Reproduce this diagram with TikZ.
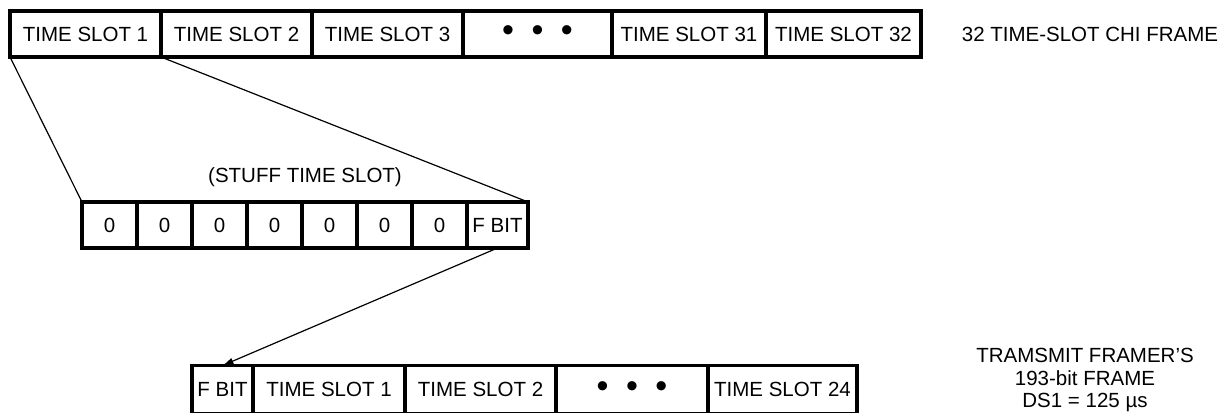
\documentclass[tikz,border=0pt]{standalone}
\usepackage{fontspec}
\setmainfont{Liberation Sans}
\usetikzlibrary{positioning,calc,arrows.meta}

\begin{document}
\begin{tikzpicture}[x=1pt,y=-1pt,
    cell/.style={draw, line width=3.2pt, minimum height=46pt, inner sep=0pt, outer sep=0pt, font=\fontsize{20.5}{24}\selectfont},
    lbl/.style={font=\fontsize{20.5}{22.5}\selectfont, align=center}]
            \useasboundingbox (0,0) rectangle (1230,412);

            % 32 time-slot CHI frame
            \node[cell, minimum width=151pt] (T1) at (85.5,34) {TIME SLOT 1};
            \node[cell, minimum width=151pt] (T2) at (236.5,34) {TIME SLOT 2};
            \node[cell, minimum width=151pt] (T3) at (387.5,34) {TIME SLOT 3};
            \node[cell, minimum width=149pt] (Tdots) at (537.5,34) {\fontsize{34}{34}\selectfont\textbullet\hspace{17.5pt}\textbullet\hspace{17.5pt}\textbullet};
            \node[cell, minimum width=154pt] (T31) at (689,34) {TIME SLOT 31};
            \node[cell, minimum width=155pt] (T32) at (843.5,34) {TIME SLOT 32};
            \node[lbl] (chi) at (1090,34) {32 TIME-SLOT CHI FRAME};

            % stuff time slot
            \node[lbl] (stuff) at (305,177) {(STUFF TIME SLOT)};
            \node[cell, minimum width=55pt] (Z1) at (109.5,225) {0};
            \node[cell, minimum width=55pt] (Z2) at (164.5,225) {0};
            \node[cell, minimum width=55pt] (Z3) at (219.5,225) {0};
            \node[cell, minimum width=55pt] (Z4) at (274.5,225) {0};
            \node[cell, minimum width=55pt] (Z5) at (329.5,225) {0};
            \node[cell, minimum width=55pt] (Z6) at (384.5,225) {0};
            \node[cell, minimum width=55pt] (Z7) at (439.5,225) {0};
            \node[cell, minimum width=61pt] (FB) at (497.5,225) {F BIT};
            \draw[line width=1.2pt] (T1.south west) -- (Z1.north west);
            \draw[line width=1.2pt] (T1.south east) -- (FB.north east);

            % transmit framer's frame
            \node[cell, minimum width=61pt, minimum height=48pt] (BF) at (222.5,389.5) {F BIT};
            \node[cell, minimum width=152pt, minimum height=48pt] (B1) at (329,389.5) {TIME SLOT 1};
            \node[cell, minimum width=151pt, minimum height=48pt] (B2) at (480.5,389.5) {TIME SLOT 2};
            \node[cell, minimum width=152pt, minimum height=48pt] (Bdots) at (632,389.5) {\fontsize{34}{34}\selectfont\textbullet\hspace{17.5pt}\textbullet\hspace{17.5pt}\textbullet};
            \node[cell, minimum width=149pt, minimum height=48pt] (B24) at (782.5,389.5) {TIME SLOT 24};
            \node[lbl] (ds1) at (1085,380) {TRAMSMIT FRAMER’S\\193-bit FRAME\\DS1 = 125 µs};
            \draw[line width=1.2pt, -{Latex[length=11pt,width=7pt]}] (FB.south) -- (BF.north);
        \end{tikzpicture}
\end{document}
